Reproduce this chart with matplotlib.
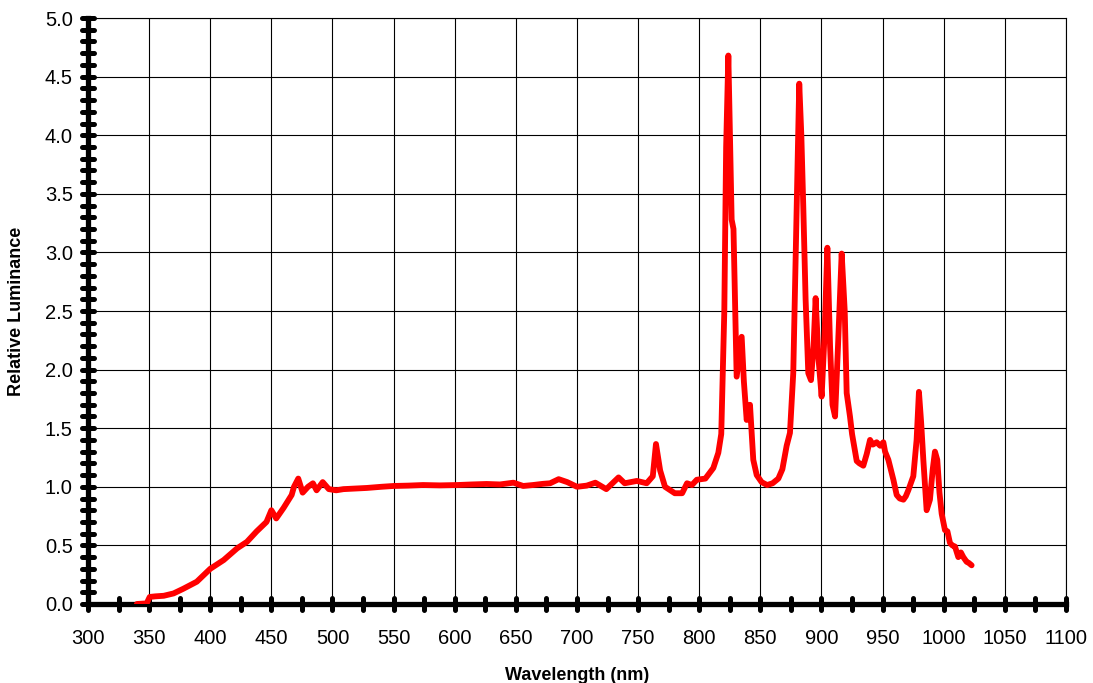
import matplotlib.pyplot as plt
from matplotlib.markers import MarkerStyle
from matplotlib.ticker import MultipleLocator, FormatStrFormatter

plt.rcParams['font.family'] = ['Liberation Sans', 'DejaVu Sans']

# Spectrum (wavelength in nm, relative luminance)
wavelength = [340, 348, 350.5, 355, 362, 370, 378, 389, 400, 411, 422, 430, 438, 446,
              450, 454, 460, 466.6, 468.5, 472, 475.6, 480, 484, 487, 492, 497, 503,
              509, 518, 528, 540, 550, 562, 574, 588, 602, 614, 626, 637, 648, 656,
              664, 672, 678, 685, 692, 700, 708, 715, 724, 734, 739, 749, 757, 762,
              764.6, 768, 772, 780, 786, 790, 794, 798, 805, 811.5, 815.6, 818,
              820.5, 822, 823.8, 825.2, 826.5, 828, 830.6, 832.5, 834.7, 836.5,
              838.8, 841.5, 844.2, 847, 851, 855.5, 860, 864.7, 868, 871.5, 874.2,
              876.9, 879.5, 881.8, 883.5, 885.1, 887, 889.2, 891.4, 893.5, 895.2,
              897.5, 900.1, 902.5, 904.8, 907, 909, 911.1, 913.5, 916.5, 919, 920.6,
              923.3, 925, 928.8, 931, 934.2, 937, 939.7, 942, 945.1, 948, 950.6, 952,
              954.7, 958.8, 961.5, 964, 967, 969, 971, 975.1, 977.8, 979.7, 981.5,
              983.3, 986, 988.7, 991, 992.8, 994.7, 996.5, 998.3, 1001, 1003, 1005.1,
              1007, 1009.2, 1011.9, 1014, 1016, 1018.7, 1020.5, 1022.8]
luminance = [0.0, 0.005, 0.06, 0.065, 0.07, 0.09, 0.13, 0.19, 0.30, 0.375, 0.475, 0.53,
             0.62, 0.70, 0.80, 0.73, 0.82, 0.93, 1.0, 1.07, 0.95, 1.0, 1.03, 0.97, 1.04,
             0.98, 0.97, 0.98, 0.985, 0.99, 1.0, 1.007, 1.01, 1.015, 1.012, 1.015, 1.02,
             1.024, 1.02, 1.035, 1.007, 1.015, 1.025, 1.03, 1.065, 1.04, 1.0, 1.01,
             1.035, 0.98, 1.08, 1.03, 1.05, 1.03, 1.09, 1.365, 1.14, 1.0, 0.945, 0.945,
             1.03, 1.015, 1.06, 1.07, 1.16, 1.29, 1.45, 2.5, 3.9, 4.68, 3.96, 3.28, 3.2,
             1.94, 2.1, 2.28, 1.9, 1.57, 1.70, 1.23, 1.10, 1.04, 1.015, 1.03, 1.07, 1.15,
             1.35, 1.46, 1.97, 3.3, 4.44, 4.0, 3.39, 2.6, 1.97, 1.91, 2.2, 2.61, 2.1,
             1.77, 2.3, 3.04, 2.2, 1.7, 1.60, 2.2, 2.99, 2.5, 1.8, 1.6, 1.45, 1.22, 1.20,
             1.18, 1.28, 1.40, 1.36, 1.38, 1.35, 1.38, 1.30, 1.23, 1.06, 0.93, 0.90, 0.89,
             0.92, 0.97, 1.09, 1.40, 1.81, 1.55, 1.23, 0.80, 0.89, 1.15, 1.30, 1.23, 0.95,
             0.77, 0.63, 0.62, 0.52, 0.50, 0.49, 0.40, 0.44, 0.40, 0.36, 0.35, 0.33]

fig = plt.figure(figsize=(10.93, 6.83), dpi=100)
ax = fig.add_axes([0.0805, 0.1157, 0.8948, 0.8579])

ax.plot(wavelength, luminance, color='#ff0000', linewidth=4.2,
        solid_capstyle='round', solid_joinstyle='round', zorder=3)

ax.set_xlim(300, 1100)
ax.set_ylim(0, 5.0)
ax.xaxis.set_major_locator(MultipleLocator(50))
ax.xaxis.set_minor_locator(MultipleLocator(25))
ax.yaxis.set_major_locator(MultipleLocator(0.5))
ax.yaxis.set_minor_locator(MultipleLocator(0.1))
ax.yaxis.set_major_formatter(FormatStrFormatter('%.1f'))

ax.grid(True, which='major', color='black', linewidth=0.8)
ax.set_axisbelow(True)

for side in ['left', 'bottom']:
    ax.spines[side].set_linewidth(3.8)
for side in ['top', 'right']:
    ax.spines[side].set_linewidth(0.8)

ax.tick_params(which='both', direction='inout', length=8, width=3.6, color='black',
               labelsize=14.5, top=False, right=False)
ax.tick_params(axis='x', pad=14)
ax.tick_params(axis='y', pad=7)

# rounded tick ends like the original
for axis in [ax.xaxis, ax.yaxis]:
    for t in axis.get_major_ticks() + axis.get_minor_ticks():
        m = t.tick1line.get_marker()
        t.tick1line.set_marker(MarkerStyle(m, capstyle='round'))

ax.set_xlabel('Wavelength (nm)', fontsize=13, fontweight='bold', labelpad=14)
ax.set_ylabel('Relative Luminance', fontsize=13, fontweight='bold', labelpad=14)

fig.savefig('out.png', dpi=100)
